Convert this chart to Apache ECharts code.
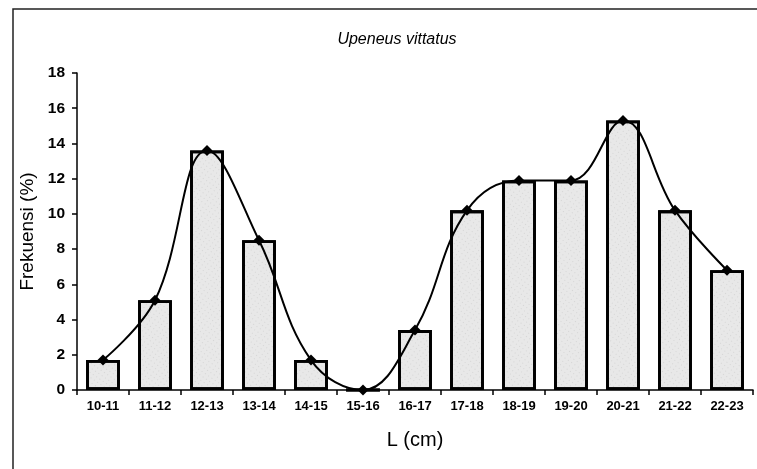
<!DOCTYPE html>
<html><head><meta charset="utf-8">
<script src="https://cdn.jsdelivr.net/npm/echarts@6/dist/echarts.min.js"></script>
<style>html,body{margin:0;padding:0;background:#fff}#c{width:757px;height:469px}</style>
</head><body><div id="c"></div>
<script>
const categories = ['10-11','11-12','12-13','13-14','14-15','15-16','16-17','17-18','18-19','19-20','20-21','21-22','22-23'];
const freqBars = [1.7, 5.1, 13.6, 8.5, 1.7, 0, 3.4, 10.2, 11.9, 11.9, 15.3, 10.2, 6.8];
const freqLine = [1.7, 5.1, 13.6, 8.5, 1.7, 0, 3.4, 10.2, 11.9, 11.9, 15.3, 10.2, 6.8];
const yTicks = [0, 2, 4, 6, 8, 10, 12, 14, 16, 18];

const chart = echarts.init(document.getElementById('c'), null, {renderer: 'canvas'});
chart.setOption({
  animation: false,
  backgroundColor: '#fff',
  textStyle: {fontFamily: 'Liberation Sans, Arial, sans-serif'},
  title: {
    text: 'Upeneus vittatus', left: 392, top: 27, textAlign: 'center',
    textStyle: {fontStyle: 'italic', fontWeight: 'normal', fontSize: 16, color: '#000', fontFamily: 'Liberation Sans, Arial, sans-serif'}
  },
  graphic: [{
    type: 'polyline', silent: true,
    shape: {points: [[13, 469], [13, 9], [757, 9]]},
    style: {stroke: '#222', lineWidth: 1.5, fill: null}
  }],
  grid: {left: 77, right: 4, top: 73, bottom: 79},
  xAxis: {
    type: 'category', data: categories,
    name: 'L (cm)', nameLocation: 'middle', nameGap: 40,
    nameTextStyle: {fontSize: 20, color: '#000'},
    axisLine: {lineStyle: {color: '#000', width: 1.5}},
    axisTick: {show: true, length: 5, lineStyle: {color: '#000', width: 1.5}},
    axisLabel: {fontSize: 13, fontWeight: 'bold', color: '#000', margin: 10, interval: 0}
  },
  yAxis: {
    type: 'value', min: yTicks[0], max: yTicks[yTicks.length - 1], interval: 2,
    name: 'Frekuensi (%)', nameLocation: 'middle', nameGap: 37,
    nameTextStyle: {fontSize: 19, color: '#000'},
    axisLine: {show: true, lineStyle: {color: '#000', width: 1.5}},
    axisTick: {show: true, length: 5, lineStyle: {color: '#000', width: 1.5}},
    axisLabel: {fontSize: 15.5, fontWeight: 'bold', color: '#000', margin: 12},
    splitLine: {show: false}
  },
  series: [{
    type: 'bar', data: freqBars, barWidth: '65%',
    itemStyle: {
      color: '#e8e8e8', borderColor: '#000', borderWidth: 2.8,
      decal: {symbol: 'rect', symbolSize: 0.35, color: 'rgba(40,40,40,0.55)', dashArrayX: [1, 3], dashArrayY: [1, 3], rotation: 0.6}
    },
    z: 2
  }, {
    type: 'line', data: freqLine, smooth: 0.4,
    symbol: 'diamond', symbolSize: 11,
    lineStyle: {color: '#000', width: 2},
    itemStyle: {color: '#000'},
    z: 3
  }]
});
</script></body></html>
